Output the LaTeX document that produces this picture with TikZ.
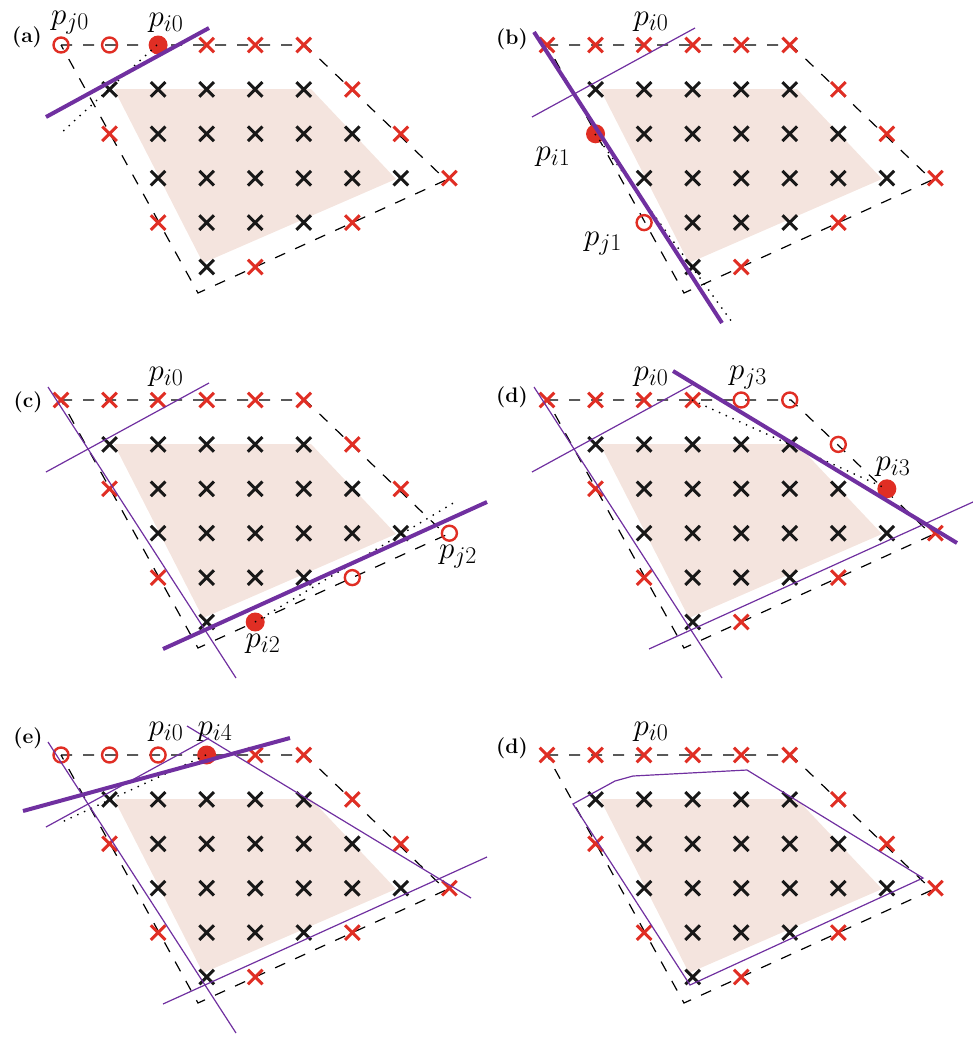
\RequirePackage{fix-cm}
\documentclass[tikz,border=0pt]{standalone}
\DeclareMathSizes{31}{31}{24}{18}
\definecolor{mred}{RGB}{224,46,36}
\definecolor{mblack}{RGB}{24,24,24}
\definecolor{mpurple}{RGB}{112,48,160}
\definecolor{mshade}{RGB}{244,228,222}
\tikzset{
 shadefill/.style={fill=mshade},
 hulledge/.style={draw=black, line width=1.2pt, dash pattern=on 11pt off 11pt},
 dotline/.style={draw=black, line width=1.4pt, dash pattern=on 1.4pt off 6pt},
 thinsup/.style={draw=mpurple, line width=1.2pt},
 thicksup/.style={draw=mpurple, line width=4pt},
 plabel/.style={font=\fontsize{31}{34}\selectfont, inner sep=0pt},
 panlabel/.style={font=\fontsize{21}{24}\selectfont\bfseries, inner sep=0pt},
}
\newcommand\xmk[3]{\draw[#3,line width=3pt] ({61+48.55*(#1)},{45+44.4*(#2)}) ++(-7.3pt,-7.3pt) -- ++(14.6pt,14.6pt) ++(-14.6pt,0pt) -- ++(14.6pt,-14.6pt);}
\newcommand\omk[2]{\draw[mred,line width=2.4pt] ({61+48.55*(#1)},{45+44.4*(#2)}) circle[radius=7.5pt];}
\newcommand\fmk[2]{\fill[mred] ({61+48.55*(#1)},{45+44.4*(#2)}) circle[radius=9.5pt];}
\newcommand\panelbase{%
 \fill[shadefill] (114,89) -- (311,89) -- (396,179) -- (203,263) -- cycle;
 \draw[hulledge] (61,45) -- (305,45) -- (446,180) -- (198,293) -- cycle;
 \foreach \c/\r in {1/1,2/1,3/1,4/1,5/1,2/2,3/2,4/2,5/2,6/2,2/3,3/3,4/3,5/3,6/3,7/3,3/4,4/4,5/4,3/5}{\xmk{\c}{\r}{mblack}}%
}
\newcommand\La{(46,117) -- (209,28)}
\newcommand\Lb{(48,32) -- (236,323)}
\newcommand\Lc{(163,294) -- (487,147)}
\newcommand\Ld{(187,16) -- (471,188)}
\newcommand\Le{(23,101) -- (290,28)}
\begin{document}
\begin{tikzpicture}[x=1pt,y=-1pt]
\useasboundingbox (0,0) rectangle (973,1037);
% ---------- (a)
\begin{scope}
\panelbase
\foreach \c/\r in {3/0,4/0,5/0,6/1,1/2,7/2,8/3,2/4,6/4,4/5}{\xmk{\c}{\r}{mred}}
\foreach \c/\r in {0/0,1/0}{\omk{\c}{\r}}
\fmk{2}{0}
\draw[dotline] (157,45) -- (60,134);
\draw[thicksup] \La;
\node[panlabel] (la) at (27,37) {(a)};
\node[plabel] (apj0) at (70,23) {$p_{j0}$};
\node[plabel] (api0) at (166,23) {$p_{i0}$};
\end{scope}
% ---------- (b)
\begin{scope}[shift={(486,0)}]
\panelbase
\foreach \c/\r in {0/0,1/0,2/0,3/0,4/0,5/0,6/1,7/2,8/3,6/4,4/5}{\xmk{\c}{\r}{mred}}
\omk{2}{4}
\fmk{1}{2}
\draw[dotline] (109,134) -- (246,322);
\draw[thinsup] \La;
\draw[thicksup] \Lb;
\node[panlabel] (lb) at (26,39) {(b)};
\node[plabel] (bpi0) at (165,22) {$p_{i0}$};
\node[plabel] (bpi1) at (67,157) {$p_{i1}$};
\node[plabel] (bpj1) at (117,244) {$p_{j1}$};
\end{scope}
% ---------- (c)
\begin{scope}[shift={(0,355)}]
\panelbase
\foreach \c/\r in {0/0,1/0,2/0,3/0,4/0,5/0,6/1,1/2,7/2,2/4}{\xmk{\c}{\r}{mred}}
\foreach \c/\r in {8/3,6/4}{\omk{\c}{\r}}
\fmk{4}{5}
\draw[dotline] (255,267) -- (455,147);
\draw[thinsup] \La;
\draw[thinsup] \Lb;
\draw[thicksup] \Lc;
\node[panlabel] (lc) at (28,47) {(c)};
\node[plabel] (cpi0) at (166,22) {$p_{i0}$};
\node[plabel] (cpj2) at (458,202) {$p_{j2}$};
\node[plabel] (cpi2) at (263,289) {$p_{i2}$};
\end{scope}
% ---------- (d)
\begin{scope}[shift={(486,355)}]
\panelbase
\foreach \c/\r in {0/0,1/0,2/0,3/0,1/2,8/3,2/4,6/4,4/5}{\xmk{\c}{\r}{mred}}
\foreach \c/\r in {4/0,5/0,6/1}{\omk{\c}{\r}}
\fmk{7}{2}
\draw[dotline] (206,45) -- (399,133);
\draw[thinsup] \La;
\draw[thinsup] \Lb;
\draw[thinsup] \Lc;
\draw[thicksup] \Ld;
\node[panlabel] (ld) at (26,42) {(d)};
\node[plabel] (dpi0) at (165,22) {$p_{i0}$};
\node[plabel] (dpj3) at (262,23) {$p_{j3}$};
\node[plabel] (dpi3) at (407,112) {$p_{i3}$};
\end{scope}
% ---------- (e)
\begin{scope}[shift={(0,710)}]
\panelbase
\foreach \c/\r in {4/0,5/0,6/1,1/2,7/2,8/3,2/4,6/4,4/5}{\xmk{\c}{\r}{mred}}
\foreach \c/\r in {0/0,1/0,2/0}{\omk{\c}{\r}}
\fmk{3}{0}
\draw[dotline] (206,45) -- (62,112);
\draw[thinsup] \La;
\draw[thinsup] \Lb;
\draw[thinsup] \Lc;
\draw[thinsup] \Ld;
\draw[thicksup] \Le;
\node[panlabel] (le) at (28,28) {(e)};
\node[plabel] (epi0) at (166,22) {$p_{i0}$};
\node[plabel] (epi4) at (215,22) {$p_{i4}$};
\end{scope}
% ---------- (f) labelled (d)
\begin{scope}[shift={(486,710)}]
\panelbase
\foreach \c/\r in {0/0,1/0,2/0,3/0,4/0,5/0,6/1,1/2,7/2,8/3,2/4,6/4,4/5}{\xmk{\c}{\r}{mred}}
\draw[thinsup] (87,94) -- (129,71) -- (147,66) -- (261,60) -- (437,168) -- (204,275) -- cycle;
\node[panlabel] (lf) at (26,38) {(d)};
\node[plabel] (fpi0) at (165,22) {$p_{i0}$};
\end{scope}
\end{tikzpicture}
\end{document}
